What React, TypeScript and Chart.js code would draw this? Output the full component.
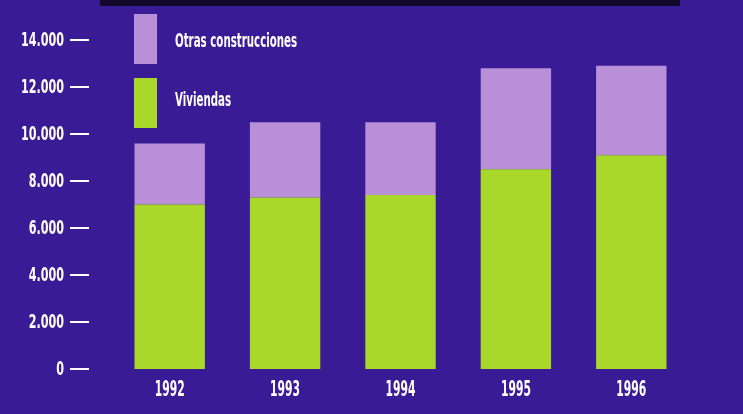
import React, { useEffect, useRef } from "react";
import { Chart, registerables } from "chart.js";

Chart.register(...registerables);

const years = ["1992", "1993", "1994", "1995", "1996"];
const viviendas = [7000, 7300, 7400, 8500, 9100];
const otras = [2600, 3200, 3100, 4300, 3800];
const yTicks = [0, 2000, 4000, 6000, 8000, 10000, 12000, 14000];

const BG = "#391b96";
const PURPLE = "#b98fd8";
const GREEN = "#a9d82a";
const FONT = "'DejaVu Sans Condensed', 'DejaVu Sans', sans-serif";

const fmt = (v: number) => (v === 0 ? "0" : v.toLocaleString("de-DE"));

function condensed(ctx: any, text: string, x: number, y: number, size: number, sx: number, align: string) {
  ctx.save();
  ctx.font = `bold ${size}px ${FONT}`;
  ctx.textAlign = align;
  ctx.textBaseline = "middle";
  ctx.fillStyle = "#ffffff";
  ctx.translate(x, y);
  ctx.scale(sx, 1);
  ctx.fillText(text, 0, 0);
  ctx.restore();
}

const decor = {
  id: "decor",
  beforeDraw(chart: any) {
    const { ctx, width, height } = chart;
    ctx.save();
    ctx.fillStyle = BG;
    ctx.fillRect(0, 0, width, height);
    ctx.fillStyle = "#120a2a";
    ctx.fillRect(100, 0, 580, 6);
    ctx.restore();
  },
  afterDraw(chart: any) {
    const { ctx } = chart;
    const y = chart.scales.y;
    const x = chart.scales.x;
    ctx.save();
    ctx.strokeStyle = "#ffffff";
    ctx.lineWidth = 2;
    yTicks.forEach((v) => {
      const py = Math.round(y.getPixelForValue(v));
      ctx.beginPath();
      ctx.moveTo(y.left + 70, py);
      ctx.lineTo(y.left + 89, py);
      ctx.stroke();
      condensed(ctx, fmt(v), y.left + 64, py + 1, 20, 0.62, "right");
    });
    chart.data.labels.forEach((l: string, i: number) => {
      condensed(ctx, l, x.getPixelForTick(i), x.top + 22, 21, 0.57, "center");
    });
    const items = chart.data.datasets.map((d: any) => d).reverse();
    items.forEach((d: any, i: number) => {
      const top = 14 + i * 64;
      ctx.fillStyle = d.backgroundColor;
      ctx.fillRect(134, top, 23, 50);
      condensed(ctx, d.label, 175, top + 28 - i * 5, 19, 0.6, "left");
    });
    ctx.restore();
  },
};

export default function App() {
  const ref = useRef<HTMLCanvasElement>(null);
  useEffect(() => {
    document.body.style.margin = "0";
    const chart = new Chart(ref.current!, {
      type: "bar",
      data: {
        labels: years,
        datasets: [
          { label: "Viviendas", data: viviendas, backgroundColor: GREEN, borderWidth: 0 },
          { label: "Otras construcciones", data: otras, backgroundColor: PURPLE, borderWidth: 0 },
        ],
      },
      options: {
        animation: false,
        responsive: false,
        maintainAspectRatio: false,
        layout: { padding: { top: 40, right: 54, left: 0, bottom: 0 } },
        plugins: { legend: { display: false }, tooltip: { enabled: false } },
        datasets: { bar: { barPercentage: 0.61, categoryPercentage: 1 } },
        scales: {
          x: {
            stacked: true,
            grid: { display: false, drawTicks: false },
            border: { display: false },
            ticks: { display: false },
            afterFit: (s: any) => { s.height = 45; },
          },
          y: {
            stacked: true,
            min: 0,
            max: 14000,
            afterBuildTicks: (s: any) => { s.ticks = yTicks.map((v) => ({ value: v })); },
            grid: { display: false, drawTicks: false },
            border: { display: false },
            ticks: { display: false },
            afterFit: (s: any) => { s.width = 112; },
          },
        },
      },
      plugins: [decor],
    });
    return () => chart.destroy();
  }, []);
  return <canvas ref={ref} width={743} height={414} style={{ display: "block" }} />;
}
